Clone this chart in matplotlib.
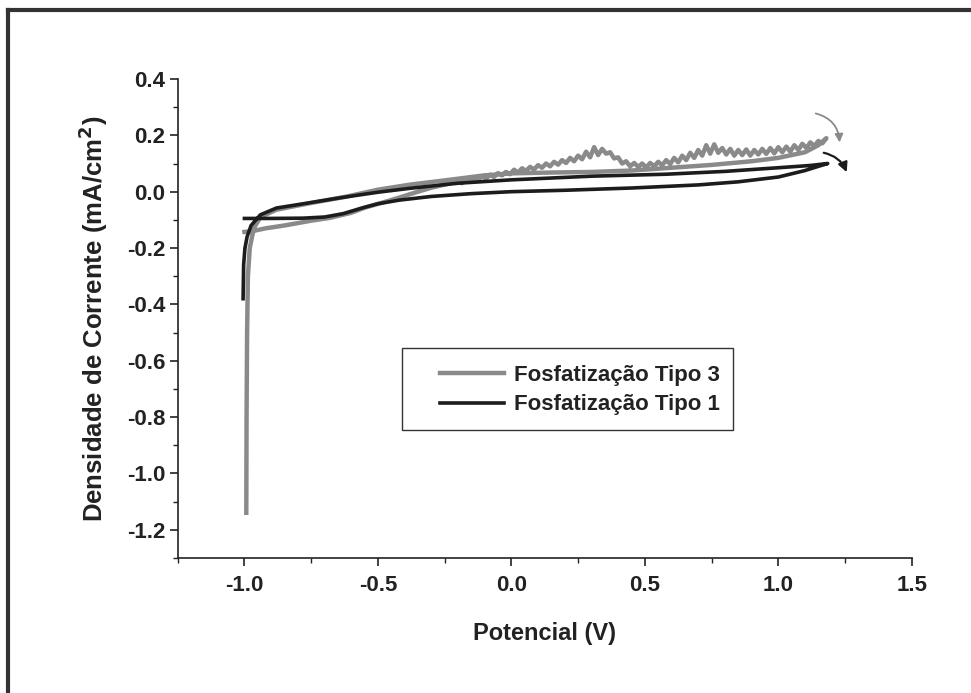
import matplotlib
matplotlib.use("Agg")
import matplotlib.pyplot as plt
from matplotlib.lines import Line2D
from matplotlib.patches import Rectangle
from matplotlib.ticker import MultipleLocator

plt.rcParams['font.family'] = ['Liberation Sans', 'DejaVu Sans']
plt.rcParams['font.weight'] = 'bold'

# Fosfatizacao Tipo 1 (black): forward scan then reverse scan
t1_fwd_x = [-1.0, -0.9, -0.78, -0.7, -0.63, -0.56, -0.5, -0.42, -0.3, -0.15, 0.0, 0.2, 0.45, 0.7, 0.85, 1.0, 1.1, 1.15, 1.185]
t1_fwd_y = [-0.095, -0.095, -0.094, -0.09, -0.078, -0.058, -0.043, -0.03, -0.017, -0.007, 0.0, 0.005, 0.013, 0.024, 0.035, 0.052, 0.075, 0.09, 0.1]
t1_rev_x = [1.185, 1.12, 1.0, 0.8, 0.58, 0.3, 0.0, -0.2, -0.38, -0.5, -0.63, -0.76, -0.88, -0.94, -0.975, -0.99, -0.998, -1.003, -1.005]
t1_rev_y = [0.1, 0.093, 0.085, 0.072, 0.062, 0.055, 0.042, 0.03, 0.012, -0.002, -0.02, -0.04, -0.058, -0.082, -0.12, -0.16, -0.2, -0.26, -0.38]

# Fosfatizacao Tipo 3 (grey): forward scan (noisy) then reverse scan
t3_fwd_x = [-1.0, -0.96, -0.92, -0.85, -0.75, -0.68, -0.6, -0.55, -0.48, -0.42, -0.35, -0.3, -0.25,
            -0.2, -0.185, -0.17, -0.155, -0.14, -0.125, -0.11, -0.095, -0.08, -0.065, -0.05, -0.035,
            -0.02, -0.005, 0.01, 0.025, 0.04, 0.055, 0.07, 0.085, 0.1, 0.115, 0.13, 0.145, 0.16, 0.175,
            0.19, 0.205, 0.22, 0.235, 0.25, 0.265, 0.28, 0.295, 0.31, 0.325, 0.34, 0.355, 0.37, 0.385,
            0.4, 0.415, 0.43, 0.445, 0.46, 0.475, 0.49, 0.505, 0.52, 0.535, 0.55, 0.565, 0.58, 0.595,
            0.61, 0.625, 0.64, 0.655, 0.67, 0.685, 0.7, 0.715, 0.73, 0.745, 0.76, 0.775, 0.79, 0.805,
            0.82, 0.835, 0.85, 0.865, 0.88, 0.895, 0.91, 0.925, 0.94, 0.955, 0.97, 0.985, 1.0, 1.015,
            1.03, 1.045, 1.06, 1.075, 1.09, 1.105, 1.12, 1.135, 1.15, 1.165, 1.18]
t3_fwd_y = [-0.143, -0.138, -0.13, -0.12, -0.103, -0.093, -0.075, -0.057, -0.038, -0.021, 0.0, 0.014, 0.025,
            0.036, 0.03, 0.043, 0.035, 0.047, 0.04, 0.055, 0.046, 0.06, 0.052, 0.066, 0.058, 0.07,
            0.062, 0.078, 0.068, 0.083, 0.074, 0.088, 0.079, 0.094, 0.085, 0.1, 0.09, 0.106, 0.096,
            0.112, 0.102, 0.12, 0.108, 0.128, 0.115, 0.142, 0.122, 0.158, 0.13, 0.152, 0.135, 0.14,
            0.118, 0.122, 0.1, 0.108, 0.09, 0.102, 0.088, 0.1, 0.086, 0.102, 0.09, 0.106, 0.094,
            0.112, 0.098, 0.12, 0.104, 0.128, 0.112, 0.138, 0.12, 0.148, 0.128, 0.165, 0.135, 0.168,
            0.138, 0.155, 0.132, 0.152, 0.128, 0.148, 0.13, 0.15, 0.128, 0.148, 0.132, 0.152, 0.134,
            0.155, 0.136, 0.158, 0.14, 0.16, 0.142, 0.165, 0.148, 0.17, 0.155, 0.175, 0.162, 0.18,
            0.172, 0.19]
t3_rev_x = [1.18, 1.15, 1.1, 1.0, 0.9, 0.75, 0.6, 0.45, 0.3, 0.15, 0.0, -0.1, -0.25, -0.38, -0.5, -0.62,
            -0.75, -0.88, -0.94, -0.965, -0.98, -0.987, -0.99, -0.992, -0.993]
t3_rev_y = [0.19, 0.165, 0.14, 0.12, 0.108, 0.095, 0.085, 0.075, 0.07, 0.068, 0.065, 0.058, 0.04, 0.025,
            0.007, -0.018, -0.04, -0.064, -0.09, -0.13, -0.2, -0.3, -0.5, -0.8, -1.14]

grey = '#8a8a8a'
black = '#1c1c1c'

fig = plt.figure(figsize=(9.71, 6.93), dpi=100)
ax = fig.add_axes([0.183, 0.195, 0.756, 0.691])

ax.plot(t3_fwd_x + t3_rev_x, t3_fwd_y + t3_rev_y, color=grey, lw=3.2, label='Fosfatização Tipo 3')
ax.plot(t1_fwd_x + t1_rev_x, t1_fwd_y + t1_rev_y, color=black, lw=2.6, label='Fosfatização Tipo 1')

# scan direction arrows
ax.annotate('', xy=(1.23, 0.165), xytext=(1.13, 0.28),
            arrowprops=dict(arrowstyle='-|>', color=grey, lw=1.3, mutation_scale=12,
                            connectionstyle='arc3,rad=-0.4'))
ax.annotate('', xy=(1.26, 0.06), xytext=(1.16, 0.14),
            arrowprops=dict(arrowstyle='-|>', color=black, lw=1.6, mutation_scale=14,
                            connectionstyle='arc3,rad=-0.3'))

ax.set_xlim(-1.25, 1.5)
ax.set_ylim(-1.3, 0.4)
ax.xaxis.set_minor_locator(MultipleLocator(0.25))
ax.yaxis.set_minor_locator(MultipleLocator(0.1))
ax.set_xticks([-1.0, -0.5, 0.0, 0.5, 1.0, 1.5])
ax.set_xticklabels(['-1.0', '-0.5', '0.0', '0.5', '1.0', '1.5'])
ax.set_yticks([0.4, 0.2, 0.0, -0.2, -0.4, -0.6, -0.8, -1.0, -1.2])
ax.set_yticklabels(['0.4', '0.2', '0.0', '-0.2', '-0.4', '-0.6', '-0.8', '-1.0', '-1.2'])

for s in ['top', 'right']:
    ax.spines[s].set_visible(False)
for s in ['left', 'bottom']:
    ax.spines[s].set_linewidth(1.2)
    ax.spines[s].set_color('#222222')
ax.tick_params(which='major', direction='out', length=6, width=1.2, labelsize=16, colors='#222222', pad=3)
ax.tick_params(axis='x', which='major', pad=6)
ax.tick_params(which='minor', direction='out', length=3.5, width=1.0, colors='#222222')
for lab in ax.get_xticklabels() + ax.get_yticklabels():
    lab.set_fontweight('bold')

ax.set_xlabel('Potencial (V)', fontsize=17, fontweight='bold', color='#222222', labelpad=19)
ax.set_ylabel('Densidade de Corrente (mA/cm$^\\mathbf{2}$)', fontsize=18.5, fontweight='bold',
              color='#222222', labelpad=12)

# legend entries without frame, box drawn separately
leg = ax.legend(loc='upper left', bbox_to_anchor=(0.357, 0.403), borderaxespad=0, borderpad=0,
                frameon=False, handlelength=2.9, handletextpad=0.45, labelspacing=0.38,
                prop={'weight': 'bold', 'size': 16})
for t in leg.get_texts():
    t.set_color('#222222')
ax.add_patch(Rectangle((0.305, 0.267), 0.451, 0.171, transform=ax.transAxes,
                       fill=False, edgecolor='#333333', lw=1.0))

# scanned page frame on left and top
fig.add_artist(Line2D([8 / 971, 8 / 971], [0, 1 - 10 / 693], color='#333333', lw=3))
fig.add_artist(Line2D([8 / 971, 1], [1 - 10 / 693, 1 - 10 / 693], color='#333333', lw=3))

fig.savefig('out.png', dpi=100)
